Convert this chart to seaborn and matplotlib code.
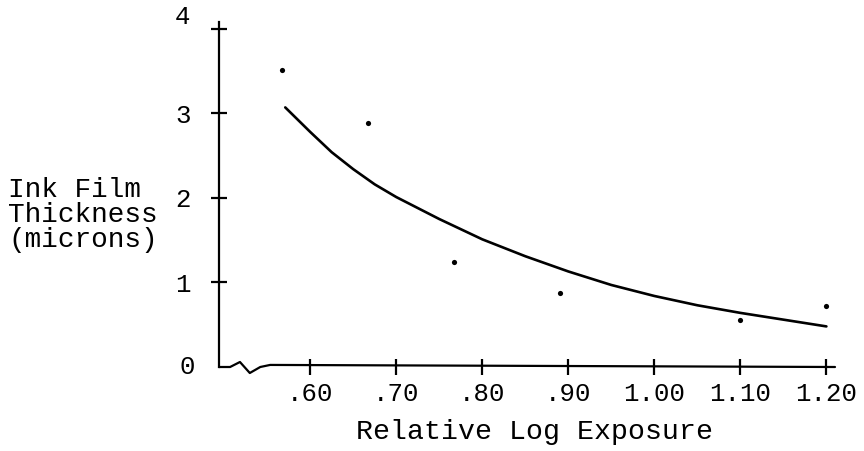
import matplotlib
matplotlib.use("Agg")
import matplotlib.pyplot as plt
import seaborn as sns
import pandas as pd

# Measured data points (scatter)
point_x = [0.567, 0.667, 0.767, 0.890, 1.100, 1.199]
point_y = [3.51, 2.88, 1.24, 0.88, 0.56, 0.72]

# Fitted curve
curve_x = [0.571, 0.60, 0.625, 0.65, 0.675, 0.70, 0.75, 0.80, 0.85, 0.90, 0.95, 1.00, 1.05, 1.10, 1.15, 1.20]
curve_y = [3.07, 2.78, 2.54, 2.34, 2.16, 2.01, 1.75, 1.51, 1.31, 1.13, 0.97, 0.84, 0.73, 0.64, 0.56, 0.48]

x_ticks = [0.60, 0.70, 0.80, 0.90, 1.00, 1.10, 1.20]
x_tick_labels = [".60", ".70", ".80", ".90", "1.00", "1.10", "1.20"]
y_ticks = [0, 1, 2, 3, 4]
y_tick_labels = ["0", "1", "2", "3", "4"]

x_title = "Relative Log Exposure"
y_title = "Ink Film\nThickness\n(microns)"

sns.set_style("white")
plt.rcParams["font.family"] = ["Liberation Mono", "DejaVu Sans Mono"]

fig = plt.figure(figsize=(8.64, 4.51), dpi=100)
ax = fig.add_axes([219 / 864, (451 - 367) / 451, (835 - 219) / 864, (367 - 22) / 451])

df_curve = pd.DataFrame({"x": curve_x, "y": curve_y})
df_pts = pd.DataFrame({"x": point_x, "y": point_y})
sns.lineplot(data=df_curve, x="x", y="y", ax=ax, color="black", linewidth=1.9, sort=True)
sns.scatterplot(data=df_pts, x="x", y="y", ax=ax, color="black", s=14, linewidth=0)

ax.set_xlim(0.494, 1.21)
ax.set_ylim(0, 4.08)
ax.set_xlabel("")
ax.set_ylabel("")

for s in ["top", "right", "bottom"]:
    ax.spines[s].set_visible(False)
ax.spines["left"].set_linewidth(1.6)
ax.spines["left"].set_color("black")

# bottom axis with break
bx = [0.0, 0.018, 0.034, 0.050, 0.067, 0.083, 1.0]
by = [0.0, 0.0, 0.0145, -0.0174, 0.0, 0.006, 0.0]
ax.plot(bx, by, transform=ax.transAxes, color="black", linewidth=1.6, clip_on=False)

ax.set_xticks(x_ticks)
ax.set_xticklabels(x_tick_labels)
ax.set_yticks(y_ticks[1:])
ax.set_yticklabels(y_tick_labels[1:4] + [""])
ax.tick_params(axis="both", direction="inout", length=11, width=1.6, color="black",
               labelsize=18.5, labelcolor="black", bottom=True, left=True)
ax.tick_params(axis="x", pad=5)
ax.tick_params(axis="y", pad=15)
# top label typed slightly above its tick, and origin label
ax.annotate(y_tick_labels[4], xy=(0, y_ticks[4]), xycoords=("axes fraction", "data"),
            xytext=(-37, 12), textcoords="offset pixels", ha="center", va="center",
            fontsize=18.5, color="black", annotation_clip=False)
ax.text(-0.052, 0.0, y_tick_labels[0], transform=ax.transAxes, ha="center", va="center",
        fontsize=18.5, color="black")

fig.text(8 / 864, (451 - 215) / 451, y_title, ha="left", va="center",
         fontsize=20, linespacing=0.94, color="black")
fig.text(535 / 864, (451 - 432) / 451, x_title, ha="center", va="center",
         fontsize=20.3, color="black")

fig.savefig("out.png", dpi=100, facecolor="white")
